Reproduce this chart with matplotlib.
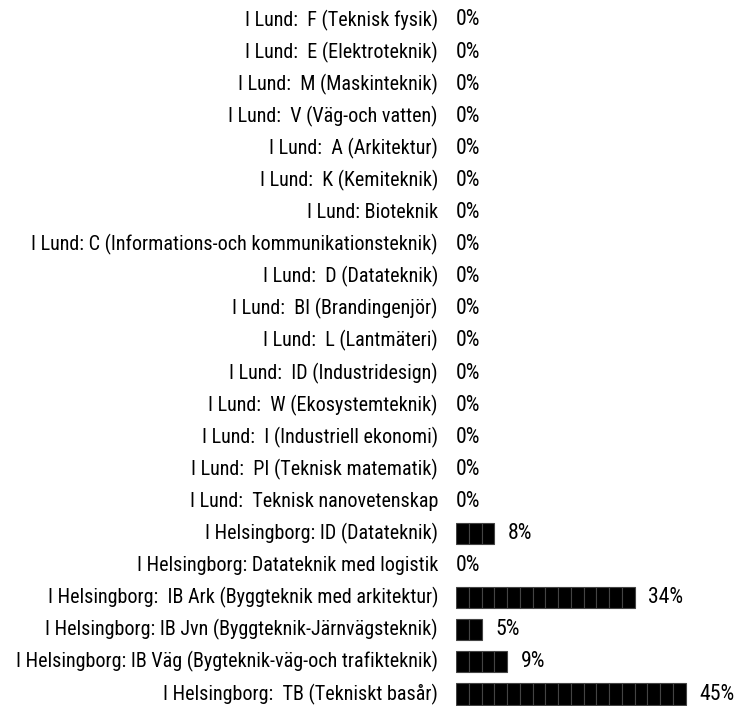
import matplotlib
matplotlib.use("Agg")
import matplotlib.pyplot as plt
from matplotlib import font_manager

labels = [
    "I Lund:  F (Teknisk fysik)",
    "I Lund:  E (Elektroteknik)",
    "I Lund:  M (Maskinteknik)",
    "I Lund:  V (Väg-och vatten)",
    "I Lund:  A (Arkitektur)",
    "I Lund:  K (Kemiteknik)",
    "I Lund: Bioteknik",
    "I Lund: C (Informations-och kommunikationsteknik)",
    "I Lund:  D (Datateknik)",
    "I Lund:  BI (Brandingenjör)",
    "I Lund:  L (Lantmäteri)",
    "I Lund:  ID (Industridesign)",
    "I Lund:  W (Ekosystemteknik)",
    "I Lund:  I (Industriell ekonomi)",
    "I Lund:  PI (Teknisk matematik)",
    "I Lund:  Teknisk nanovetenskap",
    "I Helsingborg: ID (Datateknik)",
    "I Helsingborg: Datateknik med logistik",
    "I Helsingborg:  IB Ark (Byggteknik med arkitektur)",
    "I Helsingborg: IB Jvn (Byggteknik-Järnvägsteknik)",
    "I Helsingborg: IB Väg (Bygteknik-väg-och trafikteknik)",
    "I Helsingborg:  TB (Tekniskt basår)",
]
percent = [0, 0, 0, 0, 0, 0, 0, 0, 0, 0, 0, 0, 0, 0, 0, 0, 8, 0, 34, 5, 9, 45]

step = 2.5  # each block in a bar stands for 2.5 %

# the original uses a narrow Arial-like face; take a condensed one if present
font, fs = "Liberation Sans", 11.6
for cand in ["Liberation Sans Narrow", "Arial Narrow", "Roboto Condensed",
             "Open Sans Condensed", "Noto Sans Condensed"]:
    try:
        font_manager.findfont(cand, fallback_to_default=False)
        font, fs = cand, 14.5
        break
    except ValueError:
        pass

fig = plt.figure(figsize=(7.38, 7.06), dpi=100)
ax = fig.add_axes([456 / 738, 0, 282 / 738, 1])
row_px = 32.1
ax.set_ylim(21 + 12 / row_px, -20 / row_px)
ax.set_xlim(0, 282 / 5.1)
ax.axis("off")

for i, (lab, p) in enumerate(zip(labels, percent)):
    n = int(round(p / step))
    if n > 0:
        ax.barh([i] * n, [step] * n, left=[k * step for k in range(n)],
                height=0.66, color="black", edgecolor="#444444", linewidth=0.8)
    end = n * step
    ax.text(end + (2.7 if n else 0), i, f"{p}%", va="center", ha="left",
            family=font, fontsize=fs * 1.08)
    ax.annotate(lab, xy=(0, i), xytext=(-18, 0), textcoords="offset pixels",
                va="center", ha="right", family=font, fontsize=fs,
                annotation_clip=False)

fig.savefig("out.png", dpi=100)
